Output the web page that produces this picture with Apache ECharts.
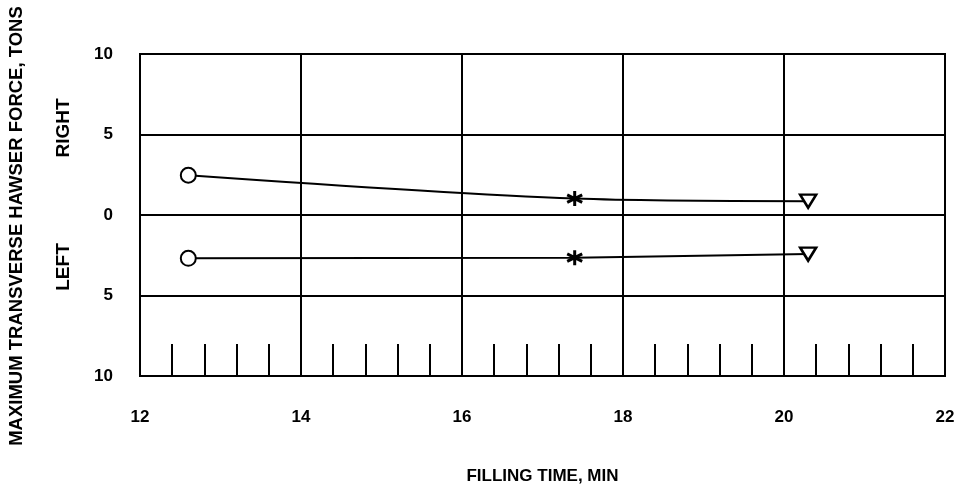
<!DOCTYPE html>
<html>
<head>
<meta charset="utf-8">
<script src="https://cdn.jsdelivr.net/npm/echarts@6/dist/echarts.min.js"></script>
<style>html,body{margin:0;padding:0;background:#fff;}#c{width:966px;height:490px;}</style>
</head>
<body>
<div id="c"></div>
<script>
// Data
const fillingTime = [12.6, 17.4, 20.3];
const rightForce = [2.47, 1.02, 0.86];
const leftForce = [-2.69, -2.65, -2.43];
const markerShapes = ['circle', 'asterisk', 'triangleDown'];
const xTicks = [12, 14, 16, 18, 20, 22];
const yTicks = [-10, -5, 0, 5, 10];

const ASTERISK = 'path://M50,0 L50,100 M6.7,25 L93.3,75 M6.7,75 L93.3,25';
const FONT = 'Liberation Sans';

function makeData(vals) {
  return fillingTime.map((x, i) => {
    const shape = markerShapes[i];
    const item = { value: [x, vals[i]] };
    if (shape === 'circle') {
      item.symbol = 'circle';
      item.symbolSize = 15;
      item.itemStyle = { color: '#fff', borderColor: '#000', borderWidth: 2 };
    } else if (shape === 'asterisk') {
      item.symbol = ASTERISK;
      item.symbolSize = 15;
      item.itemStyle = { color: 'none', borderColor: '#000', borderWidth: 3 };
    } else {
      item.symbol = 'triangle';
      item.symbolRotate = 180;
      item.symbolSize = [16, 13];
      item.itemStyle = { color: '#fff', borderColor: '#000', borderWidth: 2.5 };
    }
    return item;
  });
}

const chart = echarts.init(document.getElementById('c'), null, { renderer: 'canvas' });
chart.setOption({
  animation: false,
  backgroundColor: '#fff',
  grid: { left: 140, right: 21, top: 54, bottom: 113, show: true, borderColor: '#000', borderWidth: 2 },
  xAxis: {
    type: 'value', min: xTicks[0], max: xTicks[xTicks.length - 1], interval: 2,
    name: 'FILLING TIME, MIN', nameLocation: 'middle', nameGap: 92,
    nameTextStyle: { fontFamily: FONT, fontWeight: 'bold', fontSize: 17, color: '#000' },
    axisLine: { show: true, onZero: false, lineStyle: { color: '#000', width: 2 } },
    axisTick: { show: true, inside: true, length: 1, lineStyle: { color: '#000', width: 2 } },
    minorTick: { show: true, splitNumber: 5, length: 32, lineStyle: { color: '#000', width: 2 } },
    splitLine: { show: true, lineStyle: { color: '#000', width: 2 } },
    axisLabel: { margin: 33, fontFamily: FONT, fontWeight: 'bold', fontSize: 17, color: '#000' }
  },
  yAxis: {
    type: 'value', min: yTicks[0], max: yTicks[yTicks.length - 1], interval: 5,
    axisLine: { show: true, onZero: false, lineStyle: { color: '#000', width: 2 } },
    axisTick: { show: false },
    splitLine: { show: true, lineStyle: { color: '#000', width: 2 } },
    axisLabel: { margin: 27, fontFamily: FONT, fontWeight: 'bold', fontSize: 17, color: '#000',
      formatter: v => String(Math.abs(v)) }
  },
  graphic: [
    { type: 'text', x: 17, y: 226, rotation: Math.PI / 2,
      style: { text: 'MAXIMUM TRANSVERSE HAWSER FORCE, TONS', fontFamily: FONT, fontWeight: 'bold', fontSize: 18.5,
        fill: '#000', align: 'center', verticalAlign: 'middle' } },
    { type: 'text', x: 64, y: 128, rotation: Math.PI / 2,
      style: { text: 'RIGHT', fontFamily: FONT, fontWeight: 'bold', fontSize: 19, fill: '#000', align: 'center', verticalAlign: 'middle' } },
    { type: 'text', x: 64, y: 267, rotation: Math.PI / 2,
      style: { text: 'LEFT', fontFamily: FONT, fontWeight: 'bold', fontSize: 19, fill: '#000', align: 'center', verticalAlign: 'middle' } }
  ],
  series: [
    { type: 'line', data: makeData(rightForce), smooth: 0.3, lineStyle: { color: '#000', width: 2 }, z: 5 },
    { type: 'line', data: makeData(leftForce), smooth: false, lineStyle: { color: '#000', width: 2 }, z: 5 }
  ]
});
</script>
</body>
</html>
